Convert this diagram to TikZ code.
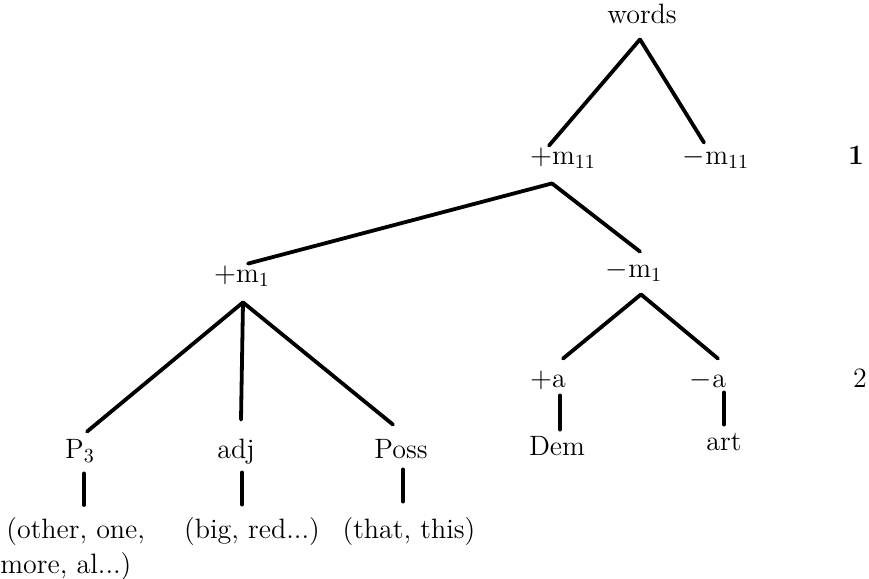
\documentclass[tikz,border=0pt]{standalone}

\begin{document}
\begin{tikzpicture}[x=0.5pt, y=-0.5pt,
                lbl/.style={inner sep=0pt, anchor=base, text height=10pt, text depth=3pt, font=\fontsize{14}{17.5}\selectfont},
                branch/.style={line width=1.9pt, line cap=round}]
                \useasboundingbox (0, 0) rectangle (869, 579);

                \node[lbl] (words) at (642, 23) {words};
                \node[lbl] (pm11) at (563, 164) {$+$m$_{11}$};
                \node[lbl] (mm11) at (716, 164) {$-$m$_{11}$};
                \node[lbl] (lvla) at (856, 164) {\textbf{1}};

                \node[lbl] (pm1) at (242, 282) {$+$m$_1$};
                \node[lbl] (mm1) at (634, 277) {$-$m$_1$};

                \node[lbl] (pa) at (548, 387) {$+$a};
                \node[lbl] (ma) at (708, 387) {$-$a};
                \node[lbl] (lvlb) at (860, 387) {2};
                \node[lbl] (dem) at (557, 455) {Dem};
                \node[lbl] (art) at (724, 450) {art};

                \node[lbl] (pthree) at (80, 458) {P$_3$};
                \node[lbl] (adj) at (236, 458) {adj};
                \node[lbl] (poss) at (401, 458) {Poss};

                \node[inner sep=0pt, anchor=north west, align=left, font=\fontsize{14}{17.5}\selectfont] (other) at (0, 517) {\hspace*{3pt}(other, one,\\more, al...)};
                \node[lbl] (bigred) at (252, 538) {(big, red...)};
                \node[lbl] (thatthis) at (409, 538) {(that, this)};

                \draw[branch] ([shift={(-1pt, -5pt)}]words.south) -- ([shift={(-7pt, -1pt)}]pm11.north);
                \draw[branch] ([shift={(-1pt, -5pt)}]words.south) -- ([shift={(-6pt, 0.5pt)}]mm11.north);

                \draw[branch] ([shift={(-5.5pt, -6.5pt)}]pm11.south) -- ([shift={(3pt, -1pt)}]pm1.north);
                \draw[branch] ([shift={(-5.5pt, -6.5pt)}]pm11.south) -- ([shift={(3pt, 2.5pt)}]mm1.north);

                \draw[branch] ([shift={(0.5pt, -7pt)}]pm1.south) -- ([shift={(3.5pt, 3pt)}]pthree.north);
                \draw[branch] ([shift={(0.5pt, -7pt)}]pm1.south) -- ([shift={(2.5pt, 9pt)}]adj.north);
                \draw[branch] ([shift={(0.5pt, -7pt)}]pm1.south) -- ([shift={(-4pt, 6.5pt)}]poss.north);

                \draw[branch] ([shift={(3.5pt, -5.5pt)}]mm1.south) -- ([shift={(7.5pt, 4pt)}]pa.north);
                \draw[branch] ([shift={(3.5pt, -5.5pt)}]mm1.south) -- ([shift={(5pt, 4pt)}]ma.north);

                % single words under each feature
                \draw[branch] ([shift={(6pt, -1pt)}]pa.south) -- ([shift={(1.5pt, 2.5pt)}]dem.north);
                \draw[branch] ([shift={(8pt, 0.5pt)}]ma.south) -- ([shift={(0pt, 2.5pt)}]art.north);

                \draw[branch] ([shift={(2pt, -4.5pt)}]pthree.south) -- ([shift={(42pt, 6pt)}]other.north west);
                \draw[branch] ([shift={(3pt, -4pt)}]adj.south) -- ([shift={(-5pt, 6.5pt)}]bigred.north);
                \draw[branch] ([shift={(1pt, -2.5pt)}]poss.south) -- ([shift={(-3pt, 8pt)}]thatthis.north);
            \end{tikzpicture}
\end{document}
